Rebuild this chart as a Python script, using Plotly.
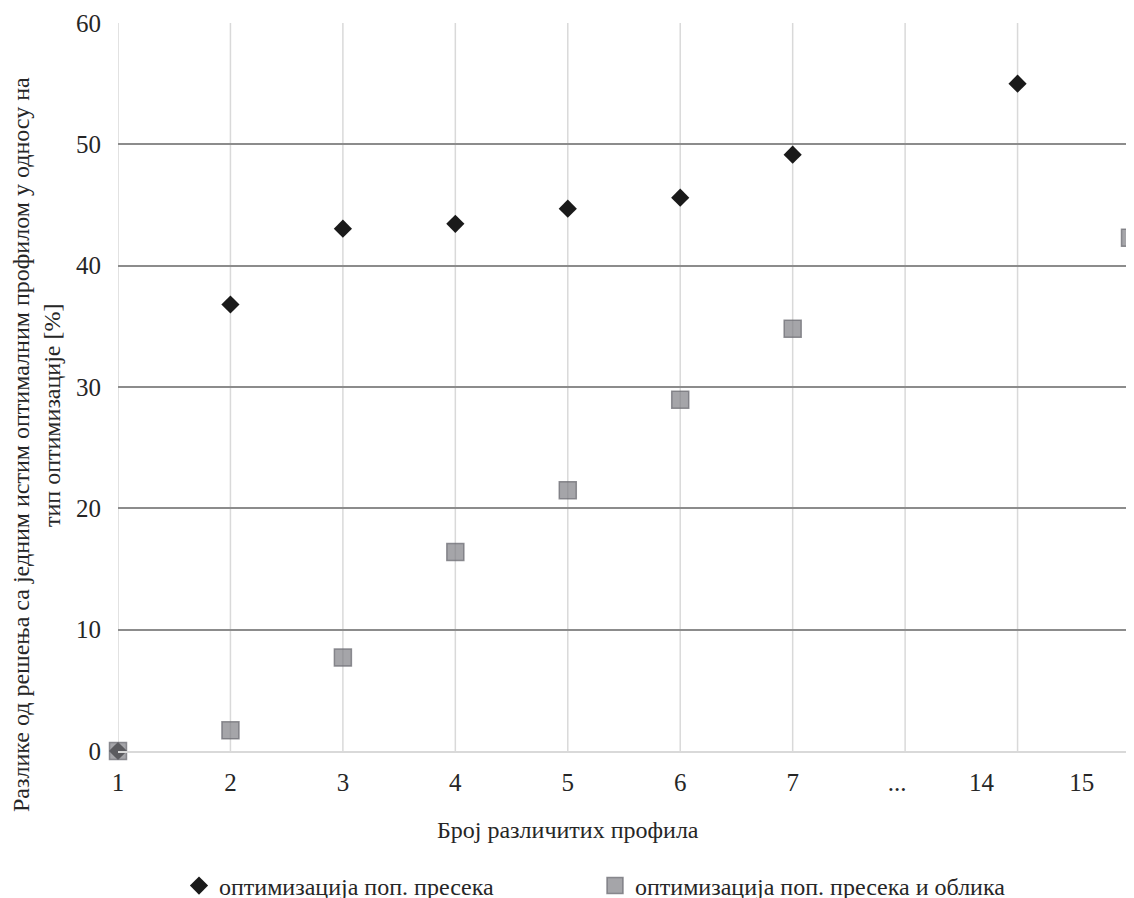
import plotly.graph_objects as go

# ---- data ----
categories = ["1", "2", "3", "4", "5", "6", "7", "...", "14", "15"]
cat_pos = list(range(1, len(categories) + 1))
series_a_name = "оптимизација поп. пресека"
series_b_name = "оптимизација поп. пресека и облика"
series_a = [0, 36.8, 43.05, 43.45, 44.7, 45.6, 49.15, None, 55.0, None]
series_b = [0, 1.7, 7.7, 16.4, 21.5, 28.95, 34.8, None, None, 42.3]
# tick label positions (labels were placed slightly off-grid in the original)
tick_label_pos = [1, 2, 3, 4, 5, 6, 7, 7.93, 8.68, 9.57]
y_ticks = [0, 10, 20, 30, 40, 50, 60]

FONT = "Liberation Serif, Times New Roman, serif"
TXT = "#262626"

# layout geometry (page body has an 8px offset)
ML, MR, MT, MB = 110, 12, 15, 155
PW = 1134 - ML - MR
PH = 898 - MT - MB


def px_x(page_x):
    return (page_x - 8 - ML) / PW


def px_y(page_y):
    return (898 - MB - (page_y - 8)) / PH


fig = go.Figure()
fig.add_trace(go.Scatter(
    x=cat_pos, y=series_a, mode="markers", name=series_a_name,
    marker=dict(symbol="diamond", size=14, color="#1a1a1a", line=dict(width=0)),
    cliponaxis=False,
))
fig.add_trace(go.Scatter(
    x=cat_pos, y=series_b, mode="markers", name=series_b_name,
    marker=dict(symbol="square", size=17, color="rgba(122,122,128,0.68)",
                line=dict(width=1.5, color="rgba(110,110,116,0.75)")),
    cliponaxis=False,
))

# vertical grid lines at every category position
shapes = []
for p in cat_pos:
    shapes.append(dict(type="line", xref="x", yref="paper", x0=p, x1=p, y0=0, y1=1,
                       line=dict(color="#d9d9d9", width=1.5), layer="below"))

fig.update_layout(
    width=1134, height=898,
    margin=dict(l=ML, r=MR, t=MT, b=MB, autoexpand=False),
    paper_bgcolor="white", plot_bgcolor="white",
    font=dict(family=FONT, size=24, color=TXT),
    shapes=shapes,
    showlegend=True,
    legend=dict(orientation="h", x=px_x(179), xanchor="left", y=px_y(886), yanchor="middle",
                font=dict(family=FONT, size=24, color=TXT),
                entrywidth=371, entrywidthmode="pixels",
                bgcolor="rgba(0,0,0,0)"),
    annotations=[
        dict(text="Број различитих профила", xref="paper", yref="paper",
             x=px_x(568), y=px_y(830), xanchor="center", yanchor="middle",
             showarrow=False, font=dict(family=FONT, size=24, color=TXT)),
        dict(text="Разлике од решења са једним истим оптималним профилом у односу на",
             xref="paper", yref="paper", x=px_x(21), y=px_y(445), xanchor="center", yanchor="middle",
             textangle=-90, showarrow=False, font=dict(family=FONT, size=24, color=TXT)),
        dict(text="тип оптимизације [%]",
             xref="paper", yref="paper", x=px_x(52), y=px_y(415), xanchor="center", yanchor="middle",
             textangle=-90, showarrow=False, font=dict(family=FONT, size=24, color=TXT)),
    ],
)
fig.update_xaxes(
    range=[1, 10], tickmode="array", tickvals=tick_label_pos, ticktext=categories,
    showgrid=False, zeroline=False, showline=True, linecolor="#d9d9d9", linewidth=1.5,
    ticks="", ticklabelstandoff=8, tickfont=dict(family=FONT, size=25, color=TXT),
)
fig.update_yaxes(
    range=[0, 60], tickmode="array", tickvals=y_ticks,
    showgrid=True, gridcolor="#8c8c8c", gridwidth=1.8, zeroline=False, showline=False,
    ticks="", ticklabelstandoff=16, tickfont=dict(family=FONT, size=25, color=TXT),
)
fig.write_html("out.html")
